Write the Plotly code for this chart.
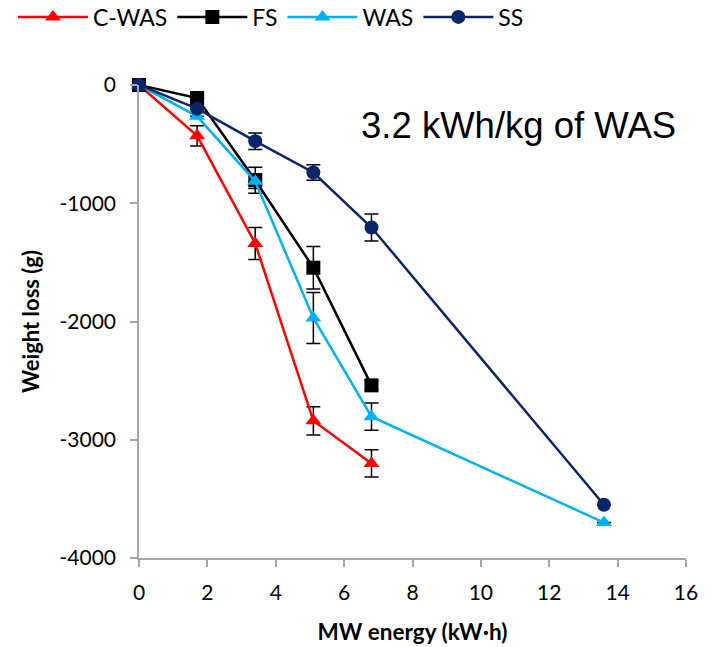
import plotly.graph_objects as go

# MW energy (kW·h)
x_short = [0, 1.7, 3.4, 5.1, 6.8]
x_long = [0, 1.7, 3.4, 5.1, 6.8, 13.6]

cwas_y = [0, -430, -1340, -2840, -3200]
cwas_err = [0, 85, 135, 120, 115]

fs_y = [0, -110, -805, -1545, -2540]
fs_err = [0, 0, 110, 180, 40]

was_y = [0, -265, -815, -1970, -2805, -3700]
was_err = [0, 0, 60, 215, 115, 0]

ss_y = [0, -200, -475, -740, -1205, -3550]
ss_err = [0, 0, 70, 65, 115, 0]

y_ticks = [0, -1000, -2000, -3000, -4000]
y_ticktext = ["0", "-1000", "-2000", "-3000", "-4000"]

axis_gray = "#a6a6a6"
font_cal = "Lato, Carlito, Calibri, sans-serif"
font_arial = "Liberation Sans, Arial, sans-serif"

fig = go.Figure()

def add_series(x, y, err, name, color, symbol):
    fig.add_trace(go.Scatter(
        x=x, y=y, name=name, mode="lines+markers",
        line=dict(color=color, width=2.5),
        marker=dict(color=color, size=14, symbol=symbol),
        error_y=dict(type="data", array=err, visible=True,
                     color="black", thickness=1.5, width=7),
        cliponaxis=False,
    ))

add_series(x_short, cwas_y, cwas_err, "C-WAS", "#ff0000", "triangle-up")
add_series(x_short, fs_y, fs_err, "FS", "#000000", "square")
add_series(x_long, was_y, was_err, "WAS", "#00b0f0", "triangle-up")
add_series(x_long, ss_y, ss_err, "SS", "#0c2468", "circle")

fig.add_annotation(
    x=11.1, y=-340, xref="x", yref="y", text="3.2 kWh/kg of WAS",
    showarrow=False, font=dict(size=36.5, color="black", family=font_arial),
)

# page body has an 8px margin, so the figure is a bit smaller than the window
fig.update_layout(
    width=706, height=639,
    margin=dict(l=131, r=28, t=77, b=89, autoexpand=False),
    paper_bgcolor="white", plot_bgcolor="white",
    font=dict(family=font_cal, color="black"),
    legend=dict(orientation="h", x=0.007, y=0.986, xref="container", yref="container",
                xanchor="left", yanchor="middle", font=dict(size=23),
                itemwidth=70, tracegroupgap=0, bgcolor="rgba(0,0,0,0)"),
    showlegend=True,
)

fig.update_xaxes(
    range=[0, 16], dtick=2, showgrid=False, zeroline=False,
    showline=True, linecolor=axis_gray, linewidth=1.5,
    ticks="outside", tickcolor=axis_gray, ticklen=7, tickwidth=1.5,
    tickfont=dict(size=21), ticklabelstandoff=8,
    title=dict(text="<b>MW energy (kW·h)</b>", font=dict(size=22.5), standoff=21),
)
fig.update_yaxes(
    range=[-4000, 0], tickvals=y_ticks, ticktext=y_ticktext,
    showgrid=False, zeroline=False,
    showline=True, linecolor=axis_gray, linewidth=1.5,
    ticks="outside", tickcolor=axis_gray, ticklen=7, tickwidth=1.5,
    tickfont=dict(size=21), ticklabelstandoff=10,
    title=dict(text="<b>Weight loss (g)</b>", font=dict(size=22), standoff=14),
)

fig.write_html("out.html")
